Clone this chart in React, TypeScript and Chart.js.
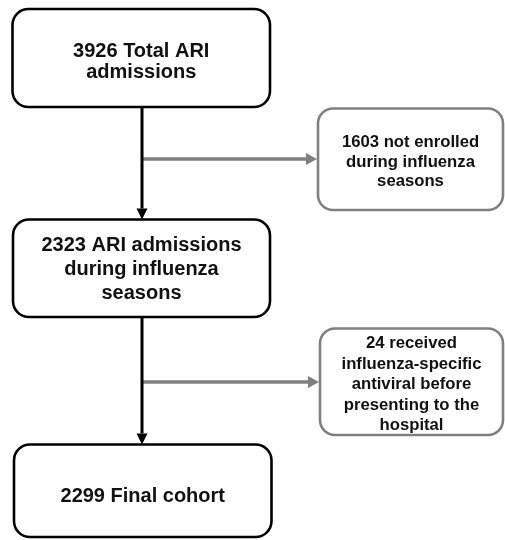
import { useEffect, useRef } from "react";
import { Chart, registerables } from "chart.js";

Chart.register(...registerables);

// ---- data ----
const stepCounts = [3926, 2323, 2299];
const stepTexts = [["Total ARI", "admissions"], ["ARI admissions", "during influenza", "seasons"], ["Final cohort"]];
const exclusionCounts = [1603, 24];
const exclusionTexts = [
  ["not enrolled", "during influenza", "seasons"],
  ["received", "influenza-specific", "antiviral before", "presenting to the", "hospital"],
];

const buildLines = (count: number, texts: string[]) => [`${count} ${texts[0]}`, ...texts.slice(1)];
const stepLabels = stepCounts.map((c, i) => buildLines(c, stepTexts[i]));
const exclusionLabels = exclusionCounts.map((c, i) => buildLines(c, exclusionTexts[i]));

// ---- layout (in scale units, 0..505 x 0..540) ----
const W = 505;
const H = 540;
const mainBoxes = [
  { x0: 12.5, x1: 270, y0: 9, y1: 107, base: 56.7, gap: 21.6 },
  { x0: 13, x1: 270, y0: 219.5, y1: 317, base: 250.7, gap: 24.2 },
  { x0: 14, x1: 271.5, y0: 444.5, y1: 537, base: 501.7, gap: 24 },
];
const sideBoxes = [
  { x0: 318, x1: 503, y0: 108.5, y1: 210, base: 146.7, gap: 19.8 },
  { x0: 320, x1: 503, y0: 328.5, y1: 435, base: 348.3, gap: 20.4 },
];
const spineX = 142;
const branchY = [159, 382];
const BLACK = "#000000";
const GRAY = "#808080";
const FONT = '"Liberation Sans", Arial, sans-serif';

function roundRectPath(ctx: CanvasRenderingContext2D, x0: number, y0: number, x1: number, y1: number, r: number) {
  ctx.beginPath();
  ctx.moveTo(x0 + r, y0);
  ctx.lineTo(x1 - r, y0);
  ctx.arcTo(x1, y0, x1, y0 + r, r);
  ctx.lineTo(x1, y1 - r);
  ctx.arcTo(x1, y1, x1 - r, y1, r);
  ctx.lineTo(x0 + r, y1);
  ctx.arcTo(x0, y1, x0, y1 - r, r);
  ctx.lineTo(x0, y0 + r);
  ctx.arcTo(x0, y0, x0 + r, y0, r);
  ctx.closePath();
}

const flowPlugin = {
  id: "flowBoxes",
  afterDatasetsDraw(chart: any) {
    const ctx: CanvasRenderingContext2D = chart.ctx;
    const xs = chart.scales.x;
    const ys = chart.scales.y;
    // arrowheads
    chart.data.datasets.forEach((ds: any, i: number) => {
      const meta = chart.getDatasetMeta(i);
      const pts = meta.data;
      if (!ds.arrow || pts.length < 2) return;
      const a = pts[pts.length - 2];
      const b = pts[pts.length - 1];
      const dx = b.x - a.x;
      const dy = b.y - a.y;
      const len = Math.hypot(dx, dy) || 1;
      const ux = dx / len;
      const uy = dy / len;
      const { length, width } = ds.arrow;
      ctx.save();
      ctx.fillStyle = ds.borderColor;
      ctx.beginPath();
      ctx.moveTo(b.x + ux * length, b.y + uy * length);
      ctx.lineTo(b.x - uy * (width / 2), b.y + ux * (width / 2));
      ctx.lineTo(b.x + uy * (width / 2), b.y - ux * (width / 2));
      ctx.closePath();
      ctx.fill();
      ctx.restore();
    });

    const drawBox = (bx: any, lines: string[], color: string, lw: number, r: number, size: number) => {
      const x0 = xs.getPixelForValue(bx.x0);
      const x1 = xs.getPixelForValue(bx.x1);
      const y0 = ys.getPixelForValue(bx.y0);
      const y1 = ys.getPixelForValue(bx.y1);
      ctx.save();
      roundRectPath(ctx, x0, y0, x1, y1, r);
      ctx.fillStyle = "#ffffff";
      ctx.fill();
      ctx.lineWidth = lw;
      ctx.strokeStyle = color;
      ctx.stroke();
      ctx.fillStyle = "#111111";
      ctx.font = `bold ${size}px ${FONT}`;
      ctx.textAlign = "center";
      ctx.textBaseline = "alphabetic";
      const cx = (x0 + x1) / 2;
      lines.forEach((t, k) => {
        ctx.fillText(t, cx, ys.getPixelForValue(bx.base + k * bx.gap));
      });
      ctx.restore();
    };
    mainBoxes.forEach((bx, i) => drawBox(bx, stepLabels[i], BLACK, 2.6, 16, 20));
    sideBoxes.forEach((bx, i) => drawBox(bx, exclusionLabels[i], GRAY, 2.6, 15, 16.7));
  },
};

export default function App() {
  const ref = useRef<HTMLCanvasElement | null>(null);
  useEffect(() => {
    if (!ref.current) return;
    const lineDs = (data: { x: number; y: number }[], color: string, width: number, arrow: any) => ({
      type: "scatter" as const,
      data,
      showLine: true,
      borderColor: color,
      backgroundColor: color,
      borderWidth: width,
      pointRadius: 0,
      borderCapStyle: "butt",
      arrow,
      clip: false,
    });
    const chart = new Chart(ref.current, {
      type: "scatter",
      data: {
        datasets: [
          lineDs([{ x: spineX, y: mainBoxes[0].y1 }, { x: spineX, y: mainBoxes[1].y0 - 11 }], BLACK, 3, { length: 11, width: 11 }),
          lineDs([{ x: spineX, y: mainBoxes[1].y1 }, { x: spineX, y: mainBoxes[2].y0 - 11 }], BLACK, 3, { length: 11, width: 11 }),
          lineDs([{ x: spineX, y: branchY[0] }, { x: sideBoxes[0].x0 - 12, y: branchY[0] }], GRAY, 3.5, { length: 11, width: 12 }),
          lineDs([{ x: spineX, y: branchY[1] }, { x: sideBoxes[1].x0 - 12, y: branchY[1] }], GRAY, 3.5, { length: 11, width: 12 }),
        ] as any,
      },
      options: {
        animation: false,
        responsive: false,
        devicePixelRatio: 1,
        layout: { padding: 0 },
        plugins: { legend: { display: false }, tooltip: { enabled: false } },
        scales: {
          x: { type: "linear", min: 0, max: W, display: false },
          y: { type: "linear", min: 0, max: H, reverse: true, display: false },
        },
      },
      plugins: [flowPlugin],
    });
    return () => chart.destroy();
  }, []);
  return (
    <div style={{ position: "fixed", left: 0, top: 0, width: W, height: H, background: "#fff" }}>
      <canvas ref={ref} width={W} height={H} style={{ display: "block" }} />
    </div>
  );
}
